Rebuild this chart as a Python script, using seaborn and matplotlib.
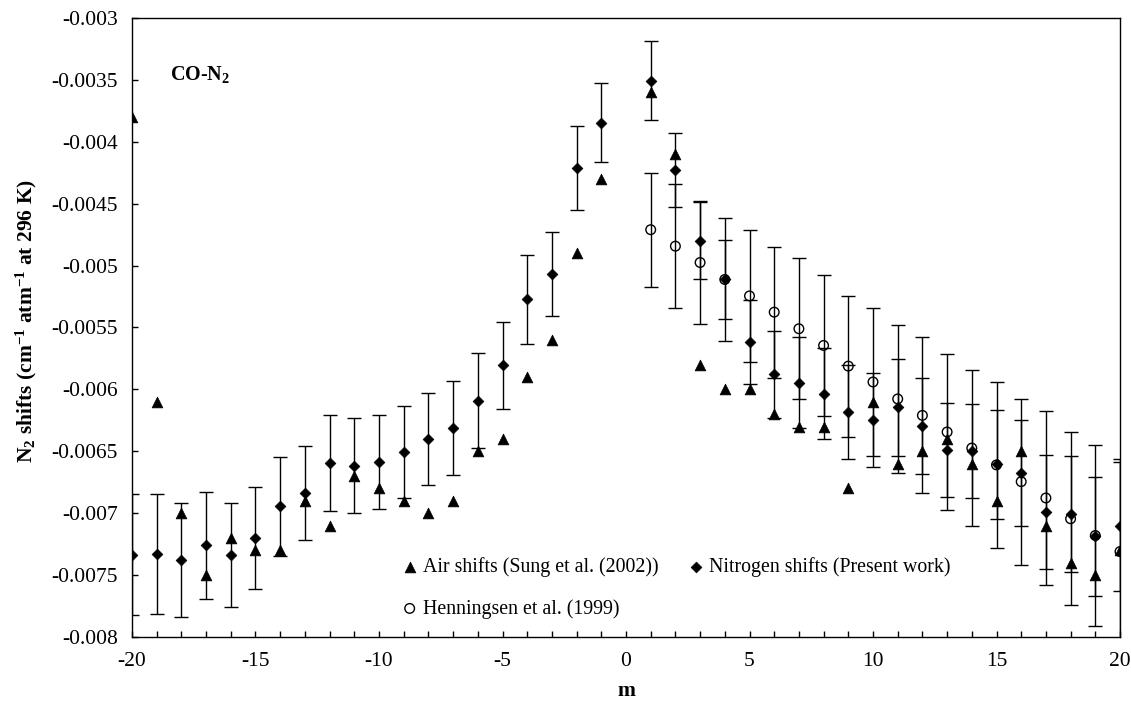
import numpy as np
import pandas as pd
import matplotlib
matplotlib.use("Agg")
import matplotlib.pyplot as plt
import seaborn as sns

# ---------------- data ----------------
m_values = list(range(-20, 0)) + list(range(1, 21))

air_shift = [-0.0038, -0.0061, -0.0070, -0.0075, -0.0072, -0.0073, -0.0073, -0.0069,
             -0.0071, -0.0067, -0.0068, -0.0069, -0.0070, -0.0069, -0.0065, -0.0064,
             -0.0059, -0.0056, -0.0049, -0.0043,
             -0.0036, -0.0041, -0.0058, -0.0060, -0.0060, -0.0062, -0.0063, -0.0063,
             -0.0068, -0.0061, -0.0066, -0.0065, -0.0064, -0.0066, -0.0069, -0.0065,
             -0.0071, -0.0074, -0.0075, -0.0073]

n2_shift = [-0.007335, -0.00733, -0.00738, -0.00726, -0.007335, -0.00720, -0.006945, -0.006835,
            -0.006595, -0.006615, -0.006588, -0.006507, -0.00640, -0.006315, -0.00609, -0.005805,
            -0.005273, -0.005068, -0.00421, -0.003845,
            -0.003507, -0.004228, -0.00480, -0.00511, -0.00562, -0.005878, -0.005945, -0.006034,
            -0.006183, -0.006246, -0.006146, -0.006294, -0.006493, -0.00650, -0.006603, -0.006675,
            -0.00699, -0.007006, -0.007185, -0.007105]

n2_err = [0.00049, 0.000485, 0.00046, 0.00043, 0.00042, 0.00041, 0.00040, 0.00038,
          0.00039, 0.00038, 0.00038, 0.00037, 0.00037, 0.00038, 0.00038, 0.00035,
          0.00036, 0.00034, 0.00034, 0.00032,
          0.00032, 0.00030, 0.00031, 0.00032, 0.00034, 0.00035, 0.00037, 0.00037,
          0.00038, 0.00038, 0.000395, 0.00039, 0.00038, 0.00038, 0.00044, 0.00043,
          0.00046, 0.00047, 0.00048, 0.00052]

henn_m = list(range(1, 21))
henn_shift = [-0.00471, -0.004843, -0.004975, -0.005112, -0.005245, -0.005376, -0.00551,
              -0.005645, -0.005812, -0.00594, -0.006077, -0.00621, -0.006344, -0.006474,
              -0.00661, -0.006745, -0.006877, -0.007045, -0.00718, -0.00731]
henn_err = [0.00046, 0.00050, 0.00050, 0.00050, 0.00053, 0.00053, 0.00057, 0.00057,
            0.00057, 0.00060, 0.00060, 0.00063, 0.00063, 0.00063, 0.00067, 0.00067,
            0.00070, 0.00070, 0.00073, 0.00075]

x_tick_values = list(range(-20, 21))
x_tick_labels = [str(v) if v % 5 == 0 else "" for v in x_tick_values]
y_tick_values = [-0.008, -0.0075, -0.007, -0.0065, -0.006, -0.0055, -0.005,
                 -0.0045, -0.004, -0.0035, -0.003]
y_tick_labels = ["-0.008", "-0.0075", "-0.007", "-0.0065", "-0.006", "-0.0055",
                 "-0.005", "-0.0045", "-0.004", "-0.0035", "-0.003"]

label_air = "Air shifts (Sung et al. (2002))"
label_n2 = "Nitrogen shifts (Present work)"
label_henn = "Henningsen et al. (1999)"

# ---------------- style ----------------
sns.set_theme(style="white", rc={
    "axes.edgecolor": "black", "text.color": "black",
    "xtick.color": "black", "ytick.color": "black", "axes.labelcolor": "black",
})
plt.rcParams["font.family"] = ["Liberation Serif", "DejaVu Serif"]
plt.rcParams["mathtext.fontset"] = "custom"
plt.rcParams["mathtext.rm"] = "Liberation Serif"
plt.rcParams["mathtext.bf"] = "Liberation Serif:bold"
plt.rcParams["mathtext.default"] = "bf"

air_df = pd.DataFrame({"m": m_values, "shift": air_shift})
n2_df = pd.DataFrame({"m": m_values, "shift": n2_shift, "err": n2_err})
henn_df = pd.DataFrame({"m": henn_m, "shift": henn_shift, "err": henn_err})

fig = plt.figure(figsize=(11.31, 7.01), dpi=100)
ax = fig.add_axes([132 / 1131, 1 - 637 / 701, 988 / 1131, 619 / 701])

# error bars
ax.errorbar(n2_df["m"], n2_df["shift"], yerr=n2_df["err"], fmt="none",
            ecolor="black", elinewidth=1.0, capsize=5, capthick=1.0, zorder=2)
ax.errorbar(henn_df["m"], henn_df["shift"], yerr=henn_df["err"], fmt="none",
            ecolor="black", elinewidth=1.0, capsize=5, capthick=1.0, zorder=2)

# markers
sns.scatterplot(data=air_df, x="m", y="shift", marker="^", s=60, color="black",
                edgecolor="black", linewidth=0.5, ax=ax, label=label_air, zorder=4)
sns.scatterplot(data=n2_df, x="m", y="shift", marker="D", s=30, color="black",
                edgecolor="black", linewidth=0.5, ax=ax, label=label_n2, zorder=5)
sns.scatterplot(data=henn_df, x="m", y="shift", marker="o", s=48, facecolor="none",
                edgecolor="black", linewidth=1.0, ax=ax, label=label_henn, zorder=3)

ax.set_xlim(-20, 20)
ax.set_ylim(-0.008, -0.003)
ax.set_xticks(x_tick_values)
ax.set_xticklabels(x_tick_labels)
ax.set_yticks(y_tick_values)
ax.set_yticklabels(y_tick_labels)
ax.tick_params(axis="both", direction="in", length=4, width=1.0, labelsize=15.5,
               bottom=True, left=True, top=False, right=False)
ax.tick_params(axis="y", pad=10)
ax.tick_params(axis="x", pad=11)
for sp in ax.spines.values():
    sp.set_linewidth(1.0)
    sp.set_color("black")

ax.set_xlabel("m", fontsize=15.5, fontweight="bold")
ax.xaxis.set_label_coords(0.5, -0.071)
ax.set_ylabel("N$_2$ shifts (cm$^{-1}$ atm$^{-1}$ at 296 K)", fontsize=15.5, fontweight="bold")
ax.yaxis.set_label_coords(-0.094, 0.51)

ax.text(0.0385, 0.908, "CO-N$_2$", transform=ax.transAxes, fontsize=14.5,
        fontweight="bold", ha="left", va="center")

handles, labels = ax.get_legend_handles_labels()
hd = dict(zip(labels, handles))
ax.legend(handles=[hd[label_air], hd[label_henn], hd[label_n2]],
          labels=[label_air, label_henn, label_n2],
          ncol=2, frameon=False, loc="upper left", bbox_to_anchor=(0.273, 0.129),
          fontsize=14.3, handletextpad=0.25, columnspacing=1.5, labelspacing=1.1,
          handlelength=0.8, borderpad=0, borderaxespad=0)

fig.savefig("out.png", dpi=100, facecolor="white")
